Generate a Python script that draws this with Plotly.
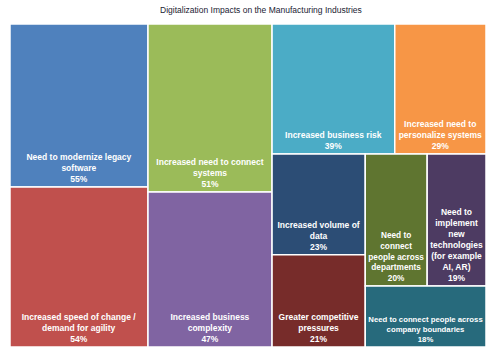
import plotly.graph_objects as go

labels = [
    "Need to modernize legacy<br>software",
    "Increased speed of change /<br>demand for agility",
    "Increased need to connect<br>systems",
    "Increased business<br>complexity",
    "Increased business risk",
    "Increased need to<br>personalize systems",
    "Increased volume of<br>data",
    "Greater competitive<br>pressures",
    "Need to<br>connect<br>people across<br>departments",
    "Need to<br>implement<br>new<br>technologies<br>(for example<br>AI, AR)",
    "Need to connect people across<br>company boundaries",
]
values = [55, 54, 51, 47, 39, 29, 23, 21, 20, 19, 18]
colors = ["#4F81BD", "#C0504D", "#9BBB59", "#8064A2", "#4BACC6", "#F79646",
          "#2C4D75", "#772C2A", "#5F7530", "#4D3B62", "#276A7C"]

fig = go.Figure(go.Treemap(
    labels=labels,
    parents=[""] * len(labels),
    values=values,
    sort=True,
    root=dict(color="white"),
    marker=dict(colors=colors, line=dict(color="white", width=1.5),
                pad=dict(t=0, l=0, r=0, b=0)),
    texttemplate="<b>%{label}<br>%{value}%</b>",
    textposition="bottom center",
    textfont=dict(family="Liberation Sans, Arial, sans-serif", size=8.5, color="white"),
    tiling=dict(packing="squarify", squarifyratio=1.14, pad=0),
    pathbar=dict(visible=False),
    hoverinfo="label+value",
))

fig.update_layout(
    width=496, height=357,
    margin=dict(l=10, r=10, t=24, b=10),
    paper_bgcolor="white",
    title=dict(text="Digitalization Impacts on the Manufacturing Industries",
               x=0.526, xanchor="center", y=0.972, yanchor="middle",
               font=dict(family="Liberation Sans, Arial, sans-serif", size=8.5, color="#1A2233")),
)

fig.write_html("out.html",
               config={"displayModeBar": False},
               post_script="document.body.style.margin='0';document.body.style.overflow='hidden';")
